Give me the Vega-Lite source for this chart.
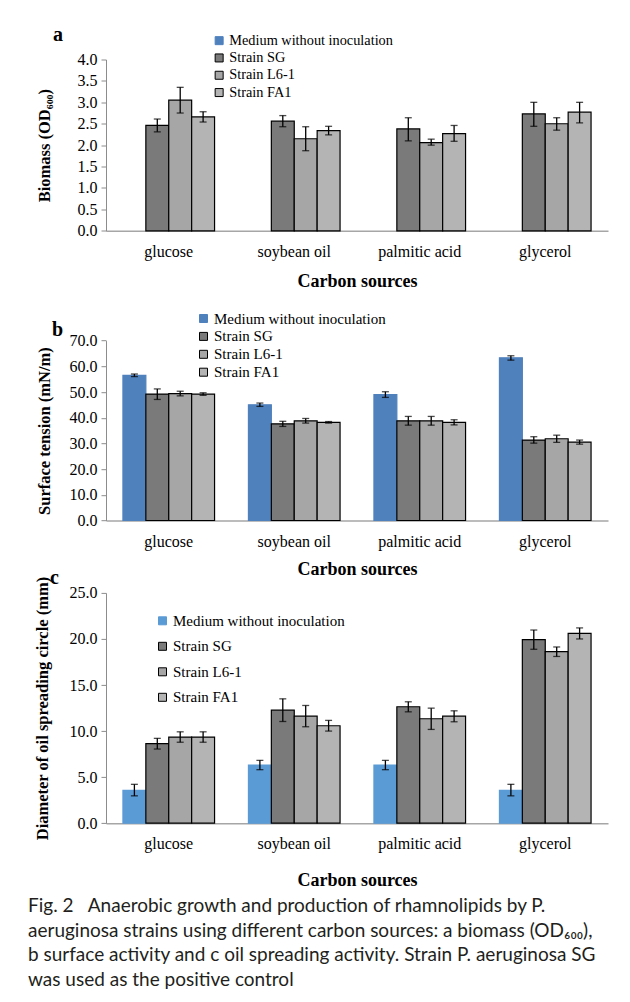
{
  "$schema": "https://vega.github.io/schema/vega-lite/v6.json",
  "padding": {"left": 27, "top": 24.5, "right": 5, "bottom": 5},
  "background": "white",
  "bounds": "flush",
  "spacing": 71.7,
  "resolve": {"scale": {"fill": "independent", "stroke": "independent"}, "legend": {"fill": "independent", "stroke": "independent"}},
  "title": {
    "text": ["Fig. 2\u2003Anaerobic growth and production of rhamnolipids by P.", "aeruginosa strains using different carbon sources: a biomass (OD\u2086\u2080\u2080),", "b surface activity and c oil spreading activity. Strain P. aeruginosa SG", "was used as the positive control"],
    "orient": "bottom", "anchor": "start", "frame": "bounds", "offset": 8, "dx": -6,
    "font": "Lato", "fontSize": 19, "fontWeight": "normal", "color": "#231f20", "lineHeight": 24.6
  },
  "datasets": {
    "biomass": [
      {"source": "glucose", "series": "Strain SG", "value": 2.46, "lo": 2.31, "hi": 2.61},
      {"source": "glucose", "series": "Strain L6-1", "value": 3.05, "lo": 2.75, "hi": 3.35},
      {"source": "glucose", "series": "Strain FA1", "value": 2.66, "lo": 2.54, "hi": 2.78},
      {"source": "soybean oil", "series": "Strain SG", "value": 2.56, "lo": 2.43, "hi": 2.69},
      {"source": "soybean oil", "series": "Strain L6-1", "value": 2.15, "lo": 1.87, "hi": 2.43},
      {"source": "soybean oil", "series": "Strain FA1", "value": 2.34, "lo": 2.24, "hi": 2.44},
      {"source": "palmitic acid", "series": "Strain SG", "value": 2.38, "lo": 2.10, "hi": 2.64},
      {"source": "palmitic acid", "series": "Strain L6-1", "value": 2.06, "lo": 2.00, "hi": 2.14},
      {"source": "palmitic acid", "series": "Strain FA1", "value": 2.27, "lo": 2.09, "hi": 2.46},
      {"source": "glycerol", "series": "Strain SG", "value": 2.73, "lo": 2.44, "hi": 3.00},
      {"source": "glycerol", "series": "Strain L6-1", "value": 2.50, "lo": 2.35, "hi": 2.64},
      {"source": "glycerol", "series": "Strain FA1", "value": 2.77, "lo": 2.52, "hi": 3.00}
    ],
    "tension": [
      {"source": "glucose", "series": "Medium without inoculation", "value": 56.5, "lo": 56.0, "hi": 57.0},
      {"source": "glucose", "series": "Strain SG", "value": 49.2, "lo": 47.1, "hi": 51.2},
      {"source": "glucose", "series": "Strain L6-1", "value": 49.4, "lo": 48.5, "hi": 50.3},
      {"source": "glucose", "series": "Strain FA1", "value": 49.2, "lo": 48.7, "hi": 49.7},
      {"source": "soybean oil", "series": "Medium without inoculation", "value": 45.0, "lo": 44.4, "hi": 45.7},
      {"source": "soybean oil", "series": "Strain SG", "value": 37.6, "lo": 36.6, "hi": 38.6},
      {"source": "soybean oil", "series": "Strain L6-1", "value": 38.8, "lo": 37.9, "hi": 39.7},
      {"source": "soybean oil", "series": "Strain FA1", "value": 38.2, "lo": 37.9, "hi": 38.5},
      {"source": "palmitic acid", "series": "Medium without inoculation", "value": 49.0, "lo": 47.9, "hi": 50.1},
      {"source": "palmitic acid", "series": "Strain SG", "value": 38.8, "lo": 37.1, "hi": 40.5},
      {"source": "palmitic acid", "series": "Strain L6-1", "value": 38.8, "lo": 37.1, "hi": 40.5},
      {"source": "palmitic acid", "series": "Strain FA1", "value": 38.2, "lo": 37.2, "hi": 39.2},
      {"source": "glycerol", "series": "Medium without inoculation", "value": 63.3, "lo": 62.4, "hi": 64.1},
      {"source": "glycerol", "series": "Strain SG", "value": 31.3, "lo": 30.1, "hi": 32.6},
      {"source": "glycerol", "series": "Strain L6-1", "value": 31.8, "lo": 30.4, "hi": 33.2},
      {"source": "glycerol", "series": "Strain FA1", "value": 30.5, "lo": 29.7, "hi": 31.3}
    ],
    "spread": [
      {"source": "glucose", "series": "Medium without inoculation", "value": 3.57, "lo": 2.97, "hi": 4.22},
      {"source": "glucose", "series": "Strain SG", "value": 8.63, "lo": 8.05, "hi": 9.21},
      {"source": "glucose", "series": "Strain L6-1", "value": 9.35, "lo": 8.79, "hi": 9.92},
      {"source": "glucose", "series": "Strain FA1", "value": 9.35, "lo": 8.79, "hi": 9.92},
      {"source": "soybean oil", "series": "Medium without inoculation", "value": 6.32, "lo": 5.81, "hi": 6.82},
      {"source": "soybean oil", "series": "Strain SG", "value": 12.27, "lo": 11.04, "hi": 13.5},
      {"source": "soybean oil", "series": "Strain L6-1", "value": 11.62, "lo": 10.47, "hi": 12.78},
      {"source": "soybean oil", "series": "Strain FA1", "value": 10.58, "lo": 10.0, "hi": 11.16},
      {"source": "palmitic acid", "series": "Medium without inoculation", "value": 6.32, "lo": 5.81, "hi": 6.82},
      {"source": "palmitic acid", "series": "Strain SG", "value": 12.64, "lo": 12.09, "hi": 13.18},
      {"source": "palmitic acid", "series": "Strain L6-1", "value": 11.34, "lo": 10.18, "hi": 12.49},
      {"source": "palmitic acid", "series": "Strain FA1", "value": 11.62, "lo": 11.01, "hi": 12.2},
      {"source": "glycerol", "series": "Medium without inoculation", "value": 3.57, "lo": 2.97, "hi": 4.22},
      {"source": "glycerol", "series": "Strain SG", "value": 19.93, "lo": 18.88, "hi": 20.97},
      {"source": "glycerol", "series": "Strain L6-1", "value": 18.63, "lo": 18.1, "hi": 19.13},
      {"source": "glycerol", "series": "Strain FA1", "value": 20.6, "lo": 20.0, "hi": 21.2}
    ]
  },
  "vconcat": [
    {
      "data": {"name": "biomass"},
      "width": 502, "height": 171.3,
      "title": {"text": "a", "anchor": "start", "frame": "group", "offset": 0, "dx": -53, "dy": 11},
      "encoding": {
        "x": {"field": "source", "type": "nominal", "sort": ["glucose", "soybean oil", "palmitic acid", "glycerol"], "title": "Carbon sources", "scale": {"paddingInner": 0.27, "paddingOuter": 0.135}, "axis": {"titlePadding": 13.6}},
        "xOffset": {"field": "series", "type": "nominal", "sort": ["Medium without inoculation", "Strain SG", "Strain L6-1", "Strain FA1"], "scale": {"domain": ["Medium without inoculation", "Strain SG", "Strain L6-1", "Strain FA1"]}}
      },
      "layer": [
        {"mark": {"type": "bar", "strokeWidth": 1.2},
         "encoding": {
           "y": {"field": "value", "type": "quantitative", "title": "Biomass (OD\u2086\u2080\u2080)", "scale": {"domain": [0, 4], "nice": false}, "axis": {"values": [0, 0.5, 1, 1.5, 2, 2.5, 3, 3.5, 4], "format": ".1f", "titlePadding": 25, "labelOverlap": false}},
           "fill": {"field": "series", "type": "nominal", "scale": {"domain": ["Medium without inoculation", "Strain SG", "Strain L6-1", "Strain FA1"], "range": ["#4f81bd", "#7a7a7a", "#a6a6a6", "#b4b4b4"]}, "legend": {"title": null, "legendX": 106, "legendY": -26, "labelFontSize": 14.3, "rowPadding": 2.3}},
           "stroke": {"field": "series", "type": "nominal", "scale": {"domain": ["Medium without inoculation", "Strain SG", "Strain L6-1", "Strain FA1"], "range": ["#4f81bd", "#000000", "#000000", "#000000"]}, "legend": {"title": null, "legendX": 106, "legendY": -26, "labelFontSize": 14.3, "rowPadding": 2.3}}
         }},
        {"mark": {"type": "rule", "color": "black", "strokeWidth": 1.3}, "encoding": {"y": {"field": "lo", "type": "quantitative", "title": "Biomass (OD\u2086\u2080\u2080)", "axis": {"values": [0, 0.5, 1, 1.5, 2, 2.5, 3, 3.5, 4], "format": ".1f", "titlePadding": 25, "labelOverlap": false}}, "y2": {"field": "hi"}}},
        {"mark": {"type": "tick", "color": "black", "size": 7, "thickness": 1.3}, "encoding": {"y": {"field": "lo", "type": "quantitative", "title": "Biomass (OD\u2086\u2080\u2080)", "axis": {"values": [0, 0.5, 1, 1.5, 2, 2.5, 3, 3.5, 4], "format": ".1f", "titlePadding": 25, "labelOverlap": false}}}},
        {"mark": {"type": "tick", "color": "black", "size": 7, "thickness": 1.3}, "encoding": {"y": {"field": "hi", "type": "quantitative", "title": "Biomass (OD\u2086\u2080\u2080)", "axis": {"values": [0, 0.5, 1, 1.5, 2, 2.5, 3, 3.5, 4], "format": ".1f", "titlePadding": 25, "labelOverlap": false}}}}
      ]
    },
    {
      "data": {"name": "tension"},
      "width": 502, "height": 217.3,
      "title": {"text": "b", "anchor": "start", "frame": "group", "offset": 0, "dx": -54, "dy": 36.5},
      "encoding": {
        "x": {"field": "source", "type": "nominal", "sort": ["glucose", "soybean oil", "palmitic acid", "glycerol"], "title": "Carbon sources", "scale": {"paddingInner": 0.27, "paddingOuter": 0.135}, "axis": {"titlePadding": 11.6}},
        "xOffset": {"field": "series", "type": "nominal", "sort": ["Medium without inoculation", "Strain SG", "Strain L6-1", "Strain FA1"], "scale": {"domain": ["Medium without inoculation", "Strain SG", "Strain L6-1", "Strain FA1"]}}
      },
      "layer": [
        {"mark": {"type": "bar", "strokeWidth": 1.2},
         "encoding": {
           "y": {"field": "value", "type": "quantitative", "title": "Surface tension (mN/m)", "scale": {"domain": [0, 70], "nice": false, "range": [217.3, 37.4]}, "axis": {"values": [0, 10, 20, 30, 40, 50, 60, 70], "format": ".1f", "titlePadding": 17, "labelOverlap": false}},
           "fill": {"field": "series", "type": "nominal", "scale": {"domain": ["Medium without inoculation", "Strain SG", "Strain L6-1", "Strain FA1"], "range": ["#4f81bd", "#7a7a7a", "#a6a6a6", "#b4b4b4"]}, "legend": {"title": null, "legendX": 90, "legendY": 7.8, "labelFontSize": 15, "rowPadding": 1.9}},
           "stroke": {"field": "series", "type": "nominal", "scale": {"domain": ["Medium without inoculation", "Strain SG", "Strain L6-1", "Strain FA1"], "range": ["#4f81bd", "#000000", "#000000", "#000000"]}, "legend": {"title": null, "legendX": 90, "legendY": 7.8, "labelFontSize": 15, "rowPadding": 1.9}}
         }},
        {"mark": {"type": "rule", "color": "black", "strokeWidth": 1.3}, "encoding": {"y": {"field": "lo", "type": "quantitative", "title": "Surface tension (mN/m)", "axis": {"values": [0, 10, 20, 30, 40, 50, 60, 70], "format": ".1f", "titlePadding": 17, "labelOverlap": false}}, "y2": {"field": "hi"}}},
        {"mark": {"type": "tick", "color": "black", "size": 7, "thickness": 1.3}, "encoding": {"y": {"field": "lo", "type": "quantitative", "title": "Surface tension (mN/m)", "axis": {"values": [0, 10, 20, 30, 40, 50, 60, 70], "format": ".1f", "titlePadding": 17, "labelOverlap": false}}}},
        {"mark": {"type": "tick", "color": "black", "size": 7, "thickness": 1.3}, "encoding": {"y": {"field": "hi", "type": "quantitative", "title": "Surface tension (mN/m)", "axis": {"values": [0, 10, 20, 30, 40, 50, 60, 70], "format": ".1f", "titlePadding": 17, "labelOverlap": false}}}}
      ]
    },
    {
      "data": {"name": "spread"},
      "width": 502, "height": 230.3,
      "title": {"text": "c", "anchor": "start", "frame": "group", "offset": 0, "dx": -56, "dy": 12},
      "encoding": {
        "x": {"field": "source", "type": "nominal", "sort": ["glucose", "soybean oil", "palmitic acid", "glycerol"], "title": "Carbon sources", "scale": {"paddingInner": 0.27, "paddingOuter": 0.135}, "axis": {"titlePadding": 19.6}},
        "xOffset": {"field": "series", "type": "nominal", "sort": ["Medium without inoculation", "Strain SG", "Strain L6-1", "Strain FA1"], "scale": {"domain": ["Medium without inoculation", "Strain SG", "Strain L6-1", "Strain FA1"]}}
      },
      "layer": [
        {"mark": {"type": "bar", "strokeWidth": 1.2},
         "encoding": {
           "y": {"field": "value", "type": "quantitative", "title": "Diameter of oil spreading circle (mm)", "scale": {"domain": [0, 25], "nice": false}, "axis": {"values": [0, 5, 10, 15, 20, 25], "format": ".1f", "titlePadding": 19, "labelOverlap": false}},
           "fill": {"field": "series", "type": "nominal", "scale": {"domain": ["Medium without inoculation", "Strain SG", "Strain L6-1", "Strain FA1"], "range": ["#5b9bd5", "#7a7a7a", "#a6a6a6", "#b4b4b4"]}, "legend": {"title": null, "legendX": 49, "legendY": 20.4, "labelFontSize": 15, "rowPadding": 9.5}},
           "stroke": {"field": "series", "type": "nominal", "scale": {"domain": ["Medium without inoculation", "Strain SG", "Strain L6-1", "Strain FA1"], "range": ["#5b9bd5", "#000000", "#000000", "#000000"]}, "legend": {"title": null, "legendX": 49, "legendY": 20.4, "labelFontSize": 15, "rowPadding": 9.5}}
         }},
        {"mark": {"type": "rule", "color": "black", "strokeWidth": 1.3}, "encoding": {"y": {"field": "lo", "type": "quantitative", "title": "Diameter of oil spreading circle (mm)", "axis": {"values": [0, 5, 10, 15, 20, 25], "format": ".1f", "titlePadding": 19, "labelOverlap": false}}, "y2": {"field": "hi"}}},
        {"mark": {"type": "tick", "color": "black", "size": 7, "thickness": 1.3}, "encoding": {"y": {"field": "lo", "type": "quantitative", "title": "Diameter of oil spreading circle (mm)", "axis": {"values": [0, 5, 10, 15, 20, 25], "format": ".1f", "titlePadding": 19, "labelOverlap": false}}}},
        {"mark": {"type": "tick", "color": "black", "size": 7, "thickness": 1.3}, "encoding": {"y": {"field": "hi", "type": "quantitative", "title": "Diameter of oil spreading circle (mm)", "axis": {"values": [0, 5, 10, 15, 20, 25], "format": ".1f", "titlePadding": 19, "labelOverlap": false}}}}
      ]
    }
  ],
  "config": {
    "view": {"stroke": null},
    "font": "Liberation Serif",
    "axis": {"labelFont": "Liberation Serif", "labelFontSize": 16, "labelColor": "black", "titleFont": "Liberation Serif", "titleFontWeight": "bold", "titleColor": "black", "grid": false, "domainColor": "#8c8c8c", "tickColor": "#8c8c8c"},
    "axisY": {"tickSize": 5, "labelPadding": 4, "titleFontSize": 16.5, "domainWidth": 1, "labelOverlap": false},
    "axisX": {"ticks": false, "tickSize": 0, "labelPadding": 12.5, "titleFontSize": 18, "labelAngle": 0, "domainWidth": 1.5, "domainColor": "#a6a6a6"},
    "legend": {"orient": "none", "labelFont": "Liberation Serif", "labelColor": "black", "symbolType": "square", "symbolSize": 64, "symbolStrokeWidth": 1, "labelOffset": 3, "padding": 0, "labelLimit": 300},
    "title": {"font": "Liberation Serif", "fontSize": 20, "fontWeight": "bold", "color": "black"}
  }
}
